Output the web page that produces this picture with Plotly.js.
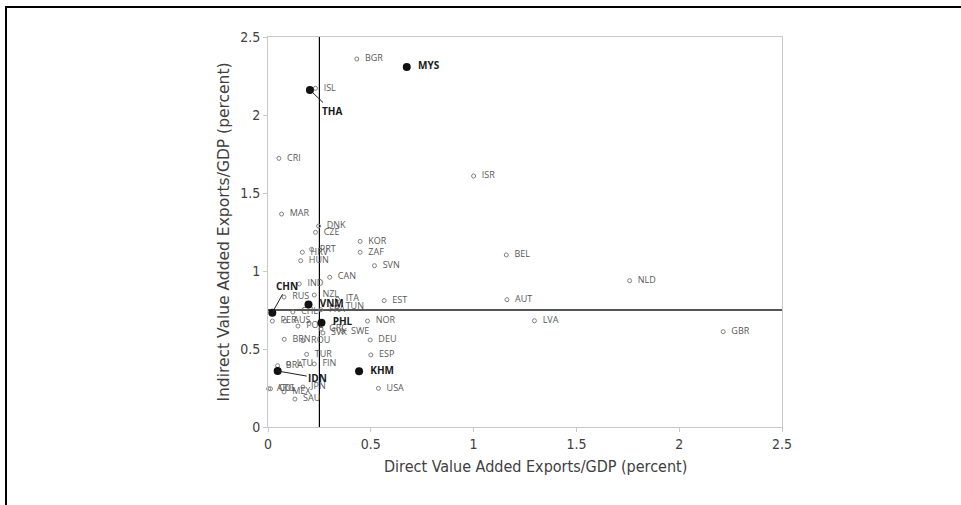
<!DOCTYPE html>
<html>
<head>
<meta charset="utf-8">
<script src="https://cdn.plot.ly/plotly-3.0.1.min.js"></script>
<style>
html,body{margin:0;padding:0;background:#fff;overflow:hidden;}
#chart{position:absolute;left:0;top:0;width:961px;height:505px;}
#frame{position:absolute;left:5px;top:6px;width:1000px;height:600px;border-left:2.5px solid #000;border-top:2.5px solid #000;pointer-events:none;}
</style>
</head>
<body>
<div id="chart"></div>
<div id="frame"></div>
<script>
// Other economies (small hollow markers)
const codes = ["BGR","ISL","CRI","ISR","MAR","DNK","CZE","KOR","ZAF","PRT","HRV","HUN","SVN","BEL","CAN","NLD","IND","RUS","NZL","ITA","AUT","EST","TUN","FRA","CHL","PER","AUS","NOR","LVA","POL","GRC","SVK","SWE","GBR","BRN","ROU","DEU","TUR","ESP","LTU","FIN","BRA","JPN","USA","ARG","COL","MEX","SAU"];
const directVA = [0.432,0.231,0.053,1.000,0.066,0.246,0.231,0.448,0.448,0.212,0.167,0.159,0.518,1.159,0.300,1.759,0.152,0.078,0.225,0.338,1.162,0.565,0.338,0.257,0.121,0.021,0.083,0.484,1.296,0.146,0.258,0.267,0.364,2.214,0.079,0.170,0.497,0.188,0.500,0.100,0.225,0.047,0.170,0.537,0.003,0.012,0.078,0.131];
const indirectVA = [2.359,2.171,1.722,1.609,1.365,1.288,1.248,1.190,1.120,1.139,1.120,1.066,1.034,1.103,0.960,0.938,0.917,0.833,0.846,0.820,0.816,0.810,0.770,0.752,0.737,0.679,0.679,0.679,0.681,0.647,0.628,0.603,0.612,0.611,0.562,0.553,0.558,0.466,0.462,0.407,0.404,0.393,0.256,0.248,0.245,0.245,0.225,0.179];

// Highlighted economies (large filled markers)
const hlCodes = ["MYS","THA","CHN","VNM","PHL","IDN","KHM"];
const hlDirect = [0.675,0.204,0.021,0.197,0.260,0.047,0.443];
const hlIndirect = [2.308,2.160,0.733,0.786,0.668,0.359,0.357];
// Highlighted labels drawn with leader lines instead of inline text
const leaderCodes = ["THA","CHN","IDN"];

// Reference thresholds
const directThreshold = 0.25;
const indirectThreshold = 0.75;

// Axis ticks
const xTicks = [0,0.5,1,1.5,2,2.5];
const xTickText = ["0","0.5","1","1.5","2","2.5"];
const yTicks = [0,0.5,1,1.5,2,2.5];
const yTickText = ["0","0.5","1","1.5","2","2.5"];

const leaderOffsets = {THA:[22,21], CHN:[15,-27], IDN:[40,7]};
const gap = '\u00a0\u00a0';

const traces = [
  {
    type:'scatter', mode:'markers+text',
    x: directVA, y: indirectVA, text: codes.map(c => gap + c),
    textposition:'middle right',
    textfont:{family:'Open Sans, DejaVu Sans, sans-serif', size:9, color:'#595959'},
    marker:{symbol:'circle-open', size:4, color:'#808080', line:{width:1, color:'#808080'}},
    hoverinfo:'text', cliponaxis:false
  },
  {
    type:'scatter', mode:'markers+text',
    x: hlDirect, y: hlIndirect,
    text: hlCodes.map(c => leaderCodes.includes(c) ? '' : gap + '<b>'+c+'</b>'),
    textposition:'middle right',
    textfont:{family:'Open Sans, DejaVu Sans, sans-serif', size:10, color:'#1a1a1a'},
    marker:{symbol:'circle', size:8, color:'#111111'},
    hoverinfo:'text', cliponaxis:false
  }
];

const annotations = [];
hlCodes.forEach((c,i)=>{
  if (leaderCodes.includes(c)) {
    const o = leaderOffsets[c];
    annotations.push({
      x: hlDirect[i], y: hlIndirect[i], xref:'x', yref:'y',
      text:'<b>'+c+'</b>', showarrow:true, arrowhead:0, arrowwidth:1, arrowcolor:'#222',
      ax:o[0], ay:o[1], standoff:0,
      font:{family:'Open Sans, DejaVu Sans, sans-serif', size:10, color:'#1a1a1a'}
    });
  }
});
// x-axis title (slightly right of plot centre, as in the original)
annotations.push({
  xref:'paper', yref:'paper', x:0.52, y:-0.1, xanchor:'center', yanchor:'middle',
  showarrow:false, text:'Direct Value Added Exports/GDP (percent)',
  font:{family:'Liberation Sans Narrow, DejaVu Sans Condensed, sans-serif', size:16, color:'#404040'}
});

const layout = {
  width:961, height:505,
  margin:{l:268, r:179, t:37, b:78},
  paper_bgcolor:'rgba(0,0,0,0)', plot_bgcolor:'#ffffff',
  showlegend:false,
  xaxis:{
    range:[0,2.5], tickvals:xTicks, ticktext:xTickText,
    showgrid:false, zeroline:false,
    showline:true, linecolor:'#c8c8c8', linewidth:1, mirror:true,
    ticks:'outside', ticklen:4, tickcolor:'#c8c8c8',
    tickfont:{family:'Liberation Sans Narrow, DejaVu Sans Condensed, sans-serif', size:14, color:'#404040'},
    title:{text:''},
    fixedrange:true
  },
  yaxis:{
    range:[0,2.5], tickvals:yTicks, ticktext:yTickText,
    showgrid:false, zeroline:false,
    showline:true, linecolor:'#c8c8c8', linewidth:1, mirror:true,
    ticks:'outside', ticklen:4, tickcolor:'#c8c8c8',
    tickfont:{family:'Liberation Sans Narrow, DejaVu Sans Condensed, sans-serif', size:14, color:'#404040'},
    title:{text:'Indirect Value Added Exports/GDP (percent)', standoff:6,
      font:{family:'DejaVu Sans, sans-serif', size:15.5, color:'#404040'}},
    fixedrange:true
  },
  shapes:[
    {type:'line', xref:'x', yref:'y', x0:directThreshold, x1:directThreshold, y0:0, y1:2.5,
     line:{color:'#000000', width:1.2}, layer:'below'},
    {type:'line', xref:'x', yref:'y', x0:0, x1:2.5, y0:indirectThreshold, y1:indirectThreshold,
     line:{color:'#555555', width:1.8}, layer:'below'}
  ],
  annotations: annotations
};

Plotly.newPlot('chart', traces, layout, {displayModeBar:false, staticPlot:true});
</script>
</body>
</html>
